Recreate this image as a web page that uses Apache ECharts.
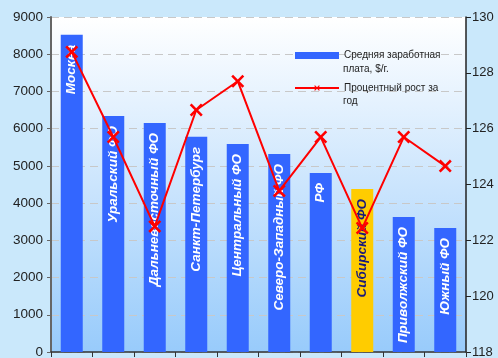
<!DOCTYPE html>
<html>
<head>
<meta charset="utf-8">
<script src="https://cdn.jsdelivr.net/npm/echarts@6/dist/echarts.min.js"></script>
<style>
  html, body { margin: 0; padding: 0; background: #cae8fb; }
  #chart { width: 498px; height: 358px; }
</style>
</head>
<body>
<div id="chart"></div>
<script>
const regions = ['Москва', 'Уральский ФО', 'Дальневосточный ФО', 'Санкт-Петербург', 'Центральный ФО',
  'Северо-Западный ФО', 'РФ', 'Сибирский ФО', 'Приволжский ФО', 'Южный ФО']
const salary = [8520, 6340, 6150, 5780, 5590, 5320, 4810, 4380, 3630, 3330]
const growth = [128.75, 125.7, 122.5, 126.67, 127.7, 123.77, 125.7, 122.44, 125.7, 124.66]
const highlight = 'Сибирский ФО'

const blue = '#3366ff'
const gold = '#ffcc00'
const red = '#ff0000'

// первая строка подписи в легенде, вторая дописывается отдельно
const salaryName = 'Средняя заработная'
const salaryName2 = 'плата, $/г.'
const growthName = 'Процентный рост за'
const growthName2 = 'год'

// крестик как маркер
const cross = 'path://M0,1.4L1.4,0L5,3.6L8.6,0L10,1.4L6.4,5L10,8.6L8.6,10L5,6.4L1.4,10L0,8.6L3.6,5Z'

const font = 'Liberation Sans, Arial, sans-serif'
const chart = echarts.init(document.getElementById('chart'))

const option = {
  backgroundColor: '#cae8fb',
  animation: false,
  textStyle: { fontFamily: font },
  grid: {
    left: 51, right: 32, top: 17, bottom: 6,
    outerBoundsMode: 'none',
    containLabel: false,
    show: true,
    borderWidth: 0,
    backgroundColor: new echarts.graphic.LinearGradient(0, 0, 0, 1, [
      { offset: 0, color: '#ffffff' },
      { offset: 1, color: '#98cbfb' }
    ])
  },
  legend: {
    orient: 'vertical',
    left: 289, top: 43.5,
    itemWidth: 44, itemHeight: 7,
    itemGap: 18.5,
    textStyle: { fontSize: 10, color: '#222', lineHeight: 14 },
    data: [
      { name: salaryName, icon: 'rect' },
      { name: growthName }
    ]
  },
  graphic: [
    { type: 'text', left: 343, top: 64, style: { text: salaryName2, fontSize: 10, fill: '#222', fontFamily: font } },
    { type: 'text', left: 343, top: 96, style: { text: growthName2, fontSize: 10, fill: '#222', fontFamily: font } }
  ],
  xAxis: {
    type: 'category',
    data: regions,
    axisLine: { lineStyle: { color: '#333', width: 1.5 } },
    axisTick: { show: true, interval: 0, length: 5, lineStyle: { color: '#333' } },
    axisLabel: { show: false }
  },
  yAxis: [
    {
      type: 'value', min: 0, max: 9000, interval: 1000,
      axisLine: { show: true, lineStyle: { color: '#666', width: 2 } },
      axisTick: { show: true, length: 4, lineStyle: { color: '#666' } },
      axisLabel: { fontSize: 13.5, color: '#222', margin: 8, formatter: (v) => String(v) },
      splitLine: { lineStyle: { color: '#c8c8c8', type: [8, 5], width: 1 } }
    },
    {
      type: 'value', min: 118, max: 130, interval: 2,
      position: 'right',
      axisLine: { show: true, lineStyle: { color: '#222', width: 1.5 } },
      axisTick: { show: true, length: 5, lineStyle: { color: '#222' } },
      axisLabel: { fontSize: 13, color: '#222', margin: 6, formatter: (v) => String(v) },
      splitLine: { show: false }
    }
  ],
  series: [
    {
      name: salaryName,
      type: 'bar',
      barWidth: '53%',
      itemStyle: { color: blue },
      data: salary.map((v, i) => ({
        value: v,
        itemStyle: { color: regions[i] === highlight ? gold : blue },
        label: regions[i] === highlight ? { color: '#1a1a7a' } : undefined
      })),
      label: {
        show: true,
        position: 'insideTop',
        rotate: 90,
        align: 'right',
        verticalAlign: 'middle',
        distance: 10,
        formatter: (p) => p.name,
        color: '#ffffff',
        fontSize: 13.5,
        fontWeight: 'bold',
        fontStyle: 'italic'
      }
    },
    {
      name: growthName,
      type: 'line',
      yAxisIndex: 1,
      data: growth,
      symbol: cross,
      symbolSize: 13,
      itemStyle: { color: red },
      lineStyle: { color: red, width: 2 },
      z: 5
    }
  ]
}

chart.setOption(option)
</script>
</body>
</html>
